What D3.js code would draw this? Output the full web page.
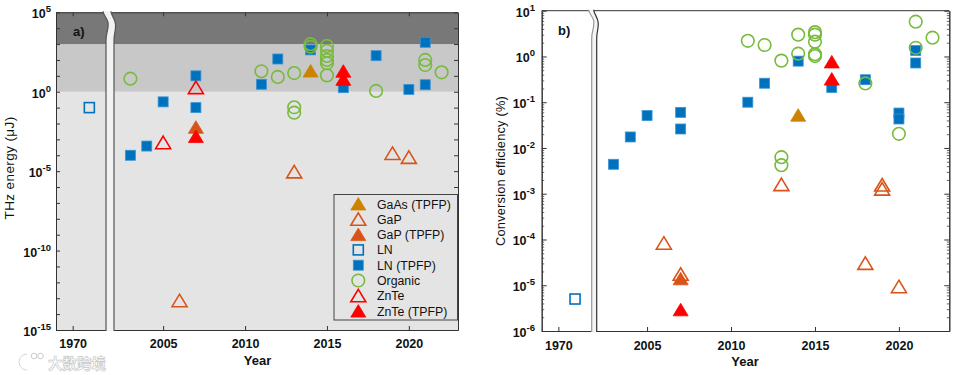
<!DOCTYPE html>
<html>
<head>
<meta charset="utf-8">
<script src="https://cdn.jsdelivr.net/npm/d3@7"></script>
<style>
  body { margin: 0; background: #fff; }
  svg { display: block; }
</style>
</head>
<body>
<svg id="chart" width="955" height="375"></svg>
<script>
// ---- data ----
const seriesNames = ["GaAs (TPFP)", "GaP", "GaP (TPFP)", "LN", "LN (TPFP)", "Organic", "ZnTe", "ZnTe (TPFP)"];

const yearTicks = [1970, 2005, 2010, 2015, 2020];
const energyLabelExps = [5, 0, -5, -10, -15];
const effLabelExps = [1, 0, -1, -2, -3, -4, -5, -6];

// panel a: THz energy (uJ), [year, value]
const gaasTpfpEnergy = [[2014, 20]];
const gapEnergy = [[2006, 7e-14], [2013, 9e-6], [2019, 1.3e-4], [2020, 7.4e-5]];
const gapTpfpEnergy = [[2007, 0.0058]];
const lnEnergy = [[1971, 0.1]];
const lnTpfpEnergy = [[2003, 1e-4], [2004, 3.8e-4], [2005, 0.23], [2007, 10], [2007, 0.1], [2011, 2.95],
  [2012, 115], [2014, 430], [2016, 1.8], [2018, 186], [2020, 1.4], [2021, 1290], [2021, 2.75]];
const organicEnergy = [[2003, 6.6], [2011, 19.5], [2012, 8.5], [2013, 15], [2013, 0.105], [2013, 0.048],
  [2014, 980], [2014, 680], [2015, 760], [2015, 380], [2015, 178], [2015, 100], [2015, 62], [2015, 10.7],
  [2018, 1.12], [2021, 100], [2021, 48], [2022, 16.6]];
const znteEnergy = [[2005, 6.2e-4], [2007, 1.8]];
const znteTpfpEnergy = [[2007, 0.0015], [2016, 19.5], [2016, 6]];

// panel b: conversion efficiency (%), [year, value]
const gaasTpfpEff = [[2014, 0.052]];
const gapEff = [[2006, 8.3e-5], [2007, 1.74e-5], [2013, 1.58e-3], [2018, 3.0e-5], [2019, 1.55e-3],
  [2019, 1.26e-3], [2020, 9.3e-6]];
const gapTpfpEff = [[2007, 1.38e-5]];
const lnEff = [[1971, 5e-6]];
const lnTpfpEff = [[2003, 0.0044], [2004, 0.0174], [2005, 0.051], [2007, 0.06], [2007, 0.026], [2011, 0.1],
  [2012, 0.26], [2014, 0.79], [2016, 0.21], [2018, 0.31], [2020, 0.058], [2020, 0.043], [2021, 1.35], [2021, 0.72]];
const organicEff = [[2011, 2.2], [2012, 1.78], [2013, 0.81], [2013, 0.0063], [2013, 0.0042], [2014, 3.0],
  [2014, 1.15], [2015, 3.4], [2015, 3.0], [2015, 2.1], [2015, 1.12], [2015, 1.02], [2018, 0.257],
  [2020, 0.0204], [2021, 5.75], [2021, 1.55], [2022, 2.57]];
const znteEff = [];
const znteTpfpEff = [[2007, 2.9e-6], [2016, 0.76], [2016, 0.32]];

// ---- styles ----
const seriesColors = ["#cc8400", "#d95319", "#d95319", "#0072bd", "#0072bd", "#77bb3c", "#ff0000", "#ff0000"];
const seriesShapes = ["triangle", "triangle", "triangle", "square", "square", "circle", "triangle", "triangle"];
const seriesFilled = [true, false, true, false, true, false, false, true];

const energySeries = [gaasTpfpEnergy, gapEnergy, gapTpfpEnergy, lnEnergy, lnTpfpEnergy, organicEnergy, znteEnergy, znteTpfpEnergy];
const effSeries = [gaasTpfpEff, gapEff, gapTpfpEff, lnEff, lnTpfpEff, organicEff, znteEff, znteTpfpEff];

const FONT = "'Liberation Sans', Arial, sans-serif";
const svg = d3.select("#chart");

function marker(g, i, x, y) {
  const color = seriesColors[i], shape = seriesShapes[i], filled = seriesFilled[i];
  let el;
  if (shape === "triangle") {
    el = g.append("path").attr("d", `M${x},${y - 6.5}L${x + 7.5},${y + 6}L${x - 7.5},${y + 6}Z`);
  } else if (shape === "square") {
    el = g.append("rect").attr("x", x - 5).attr("y", y - 5).attr("width", 10).attr("height", 10);
  } else {
    el = g.append("circle").attr("cx", x).attr("cy", y).attr("r", 6.3);
  }
  el.attr("fill", filled ? color : "none")
    .attr("stroke", filled && shape === "square" ? "#3a94d6" : color)
    .attr("stroke-width", filled ? 0.8 : 1.6);
}

function powerLabel(g, x, y, exp) {
  const t = g.append("text")
    .attr("x", x).attr("y", y + 6)
    .attr("text-anchor", "end")
    .attr("font-family", FONT).attr("font-weight", "bold").attr("font-size", 12.5)
    .attr("fill", "#111");
  t.append("tspan").text("10");
  t.append("tspan").attr("dy", -6).attr("font-size", 9.5).text(String(exp));
}

function styleAxis(sel) {
  sel.select(".domain").attr("stroke", "#333");
  sel.selectAll(".tick line").attr("stroke", "#333");
  sel.attr("font-family", FONT).attr("font-size", 12.5).attr("font-weight", "bold");
  sel.selectAll(".tick text").attr("fill", "#111");
}

function drawBreak(g, x0, x1, yTop, yBot, fill, strokeL, strokeR) {
  const l = `M${x0},${yBot} L${x0},${yTop + 28} C${x0},${yTop + 20} ${x0 + 3},${yTop + 17} ${x0 + 2},${yTop + 10} C${x0 + 1},${yTop + 5} ${x0 - 3},${yTop + 3} ${x0 - 3},${yTop - 1}`;
  const r = `M${x1 - 3},${yTop - 1} C${x1 - 3},${yTop + 3} ${x1 + 1},${yTop + 6} ${x1 + 1.5},${yTop + 12} C${x1 + 2},${yTop + 18} ${x1},${yTop + 21} ${x1},${yTop + 28} L${x1},${yBot}`;
  g.append("path")
    .attr("d", l + ` L${x0 - 3},${yTop - 1} ` + r.replace(/^M/, "L") + " Z")
    .attr("fill", fill).attr("stroke", "none");
  g.append("path").attr("d", l).attr("fill", "none").attr("stroke", strokeL).attr("stroke-width", 1.2);
  g.append("path").attr("d", r).attr("fill", "none").attr("stroke", strokeR).attr("stroke-width", 1.2);
}

// ================= panel a =================
{
  const L = 56, R = 458, T = 12.3, B = 330;
  const x = d3.scaleLinear().domain([1969, 1972, 2002, 2023]).range([L, 106, 114, R]);
  const y = d3.scaleLog().domain([1e-15, 1e5]).range([B, T]);
  const g = svg.append("g");

  // shaded bands
  g.append("rect").attr("x", L).attr("y", y(1)).attr("width", R - L).attr("height", B - y(1)).attr("fill", "#e4e4e4");
  g.append("rect").attr("x", L).attr("y", y(1e3)).attr("width", R - L).attr("height", y(1) - y(1e3)).attr("fill", "#c8c8c8");
  g.append("rect").attr("x", L).attr("y", T).attr("width", R - L).attr("height", y(1e3) - T).attr("fill", "#787878");

  const decades = d3.range(-15, 6).map(e => Math.pow(10, e));
  g.append("g").attr("transform", `translate(${L},0)`)
    .call(d3.axisRight(y).tickValues(decades).tickSize(4).tickSizeOuter(0).tickFormat(""))
    .call(styleAxis);
  g.append("g").attr("transform", `translate(${R},0)`)
    .call(d3.axisLeft(y).tickValues(decades).tickSize(4).tickSizeOuter(0).tickFormat(""))
    .call(styleAxis);
  g.append("g").attr("transform", `translate(0,${B})`)
    .call(d3.axisBottom(x).tickValues(yearTicks).tickSize(-4).tickSizeOuter(0).tickPadding(9).tickFormat(d3.format("d")))
    .call(styleAxis);
  g.append("g").attr("transform", `translate(0,${T})`)
    .call(d3.axisBottom(x).tickValues(yearTicks).tickSize(4).tickSizeOuter(0).tickFormat(""))
    .call(styleAxis);

  energyLabelExps.forEach(e => powerLabel(g, 51, y(Math.pow(10, e)), e));

  energySeries.forEach((data, i) => {
    data.forEach(d => marker(g, i, x(d[0]), y(d[1])));
  });

  drawBreak(g, x(1972), x(2002), T, B + 1, "#f2f2f2", "#555", "#555");

  g.append("text").attr("x", 73).attr("y", 36).attr("font-family", FONT).attr("font-weight", "bold")
    .attr("font-size", 13).attr("fill", "#111").text("a)");

  // legend
  const lx = 334, ly = 194.5, lw = 123.5, lh = 125.5;
  g.append("rect").attr("x", lx).attr("y", ly).attr("width", lw).attr("height", lh)
    .attr("fill", "#e4e4e4").attr("stroke", "#444").attr("stroke-width", 1);
  seriesNames.forEach((name, i) => {
    const cy = 204 + i * 15.3;
    marker(g, i, 358.3, cy);
    g.append("text").attr("x", 377).attr("y", cy + 4.5).attr("font-family", FONT)
      .attr("font-size", 12.3).attr("fill", "#111").text(name);
  });

  g.append("text").attr("x", (L + R) / 2 + 0.5).attr("y", 365).attr("text-anchor", "middle")
    .attr("font-family", FONT).attr("font-weight", "bold").attr("font-size", 13).attr("fill", "#111").text("Year");
  g.append("text").attr("transform", "translate(14,168) rotate(-90)").attr("text-anchor", "middle")
    .attr("font-family", FONT).attr("font-size", 13.5).attr("letter-spacing", 0.4).attr("fill", "#111")
    .text("THz energy (\u03bcJ)");
}

// ================= panel b =================
{
  const L = 541.7, R = 949.3, T = 10.7, B = 331;
  const x = d3.scaleLinear().domain([1969, 1972, 2002, 2023]).range([L, 591.7, 596.7, R]);
  const y = d3.scaleLog().domain([1e-6, 10]).range([B, T]);
  const g = svg.append("g");

  const decades = d3.range(-6, 2).map(e => Math.pow(10, e));
  const minors = [];
  d3.range(-6, 1).forEach(e => d3.range(2, 10).forEach(m => minors.push(m * Math.pow(10, e))));

  [[L, d3.axisRight], [R, d3.axisLeft]].forEach(([px, ax]) => {
    g.append("g").attr("transform", `translate(${px},0)`)
      .call(ax(y).tickValues(minors).tickSize(2.5).tickSizeOuter(0).tickFormat(""))
      .call(styleAxis)
      .call(s => s.selectAll(".tick line").attr("stroke", "#666"));
    g.append("g").attr("transform", `translate(${px},0)`)
      .call(ax(y).tickValues(decades).tickSize(5).tickSizeOuter(0).tickFormat(""))
      .call(styleAxis);
  });
  g.append("g").attr("transform", `translate(0,${B})`)
    .call(d3.axisBottom(x).tickValues(yearTicks).tickSize(-4).tickSizeOuter(0).tickPadding(10).tickFormat(d3.format("d")))
    .call(styleAxis);
  g.append("line").attr("x1", L).attr("x2", R).attr("y1", T).attr("y2", T).attr("stroke", "#333");

  effLabelExps.forEach(e => powerLabel(g, 535, y(Math.pow(10, e)), e));

  effSeries.forEach((data, i) => {
    data.forEach(d => marker(g, i, x(d[0]), y(d[1])));
  });

  drawBreak(g, x(1972), x(2002), T, B + 1, "#f4f4f4", "#999", "#333");

  g.append("text").attr("x", 558).attr("y", 35).attr("font-family", FONT).attr("font-weight", "bold")
    .attr("font-size", 13).attr("fill", "#111").text("b)");

  g.append("text").attr("x", 745).attr("y", 366).attr("text-anchor", "middle")
    .attr("font-family", FONT).attr("font-weight", "bold").attr("font-size", 13).attr("fill", "#111").text("Year");
  g.append("text").attr("transform", "translate(505,171) rotate(-90)").attr("text-anchor", "middle")
    .attr("font-family", FONT).attr("font-size", 12.8).attr("letter-spacing", 0.2).attr("fill", "#111")
    .text("Conversion efficiency (%)");
}

// watermark
{
  const w = svg.append("g").attr("opacity", 0.9);
  const arc = "M27,354 A8,8 0 1 0 27,370";
  w.append("path").attr("d", arc).attr("fill", "none").attr("stroke", "#fff").attr("stroke-width", 4);
  w.append("path").attr("d", arc).attr("fill", "none").attr("stroke", "#c8c8c8").attr("stroke-width", 0.8);
  w.append("circle").attr("cx", 34).attr("cy", 356).attr("r", 2.8).attr("fill", "#fff").attr("stroke", "#c8c8c8");
  w.append("circle").attr("cx", 40.5).attr("cy", 356).attr("r", 2.8).attr("fill", "#fff").attr("stroke", "#c8c8c8");
  w.append("text").attr("x", 48).attr("y", 368.5).attr("font-family", "'Noto Sans CJK SC', sans-serif")
    .attr("font-size", 14.5).attr("font-weight", "bold").attr("fill", "#fff")
    .attr("stroke", "#c4c4c4").attr("stroke-width", 0.7).text("大数跨境");
}
</script>
</body>
</html>
